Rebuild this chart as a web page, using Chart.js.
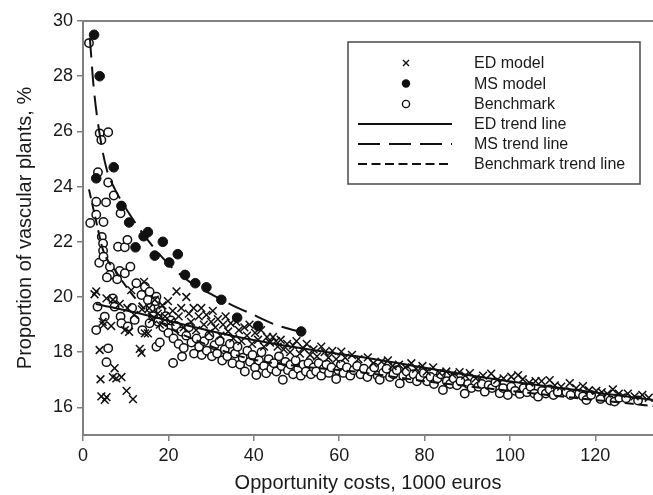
<!DOCTYPE html>
<html>
<head>
<meta charset="utf-8">
<script src="https://cdn.jsdelivr.net/npm/chart.js@4/dist/chart.umd.min.js"></script>
<style>
  html, body { margin: 0; padding: 0; background: #fff; }
  #wrap { width: 653px; height: 495px; position: relative; }
</style>
</head>
<body>
<div id="wrap"><canvas id="myChart"></canvas></div>
<script>
// --- data ---
const xTicks = [0, 20, 40, 60, 80, 100, 120];
const yTicks = [16, 18, 20, 22, 24, 26, 28, 30];

// ED model (crosses)
const edModel = [
    [3.1,20.2],[2.7,20.1],[5.5,19.95],[7.0,19.9],[8.6,19.75],[4.6,19.1],[4.8,18.98],[6.6,18.95],[9.8,18.8],[10.8,18.74],
    [3.9,18.08],[13.3,18.12],[13.7,17.98],[7.4,17.42],[7.0,17.1],[7.8,17.05],[9.0,17.1],[4.1,17.02],[4.3,16.4],[5.5,16.37],
    [5.1,16.27],[10.2,16.6],[11.7,16.3],[14.5,18.68],[15.2,18.68],[12.0,19.35],[13.8,19.55],[14.3,20.55],[11.3,20.25],[10.4,19.6],
    [15.5,19.6],[16.2,19.2],[16.8,19.9],[17.5,19.4],[18.0,19.0],[18.6,19.7],[19.2,19.3],[19.9,19.85],[20.5,19.1],[21.0,19.5],
    [21.9,20.2],[22.4,19.3],[23.0,19.6],[23.6,18.9],[24.2,20.0],[24.8,19.4],[25.3,19.1],[25.9,19.6],[26.5,18.8],[27.1,19.3],
    [27.7,19.6],[28.3,19.0],[28.9,19.35],[29.5,18.7],[30.0,19.1],[30.4,19.5],[31.0,18.9],[31.6,19.2],[32.2,18.6],[32.8,19.0],
    [33.4,19.3],[34.0,18.75],[34.6,19.05],[35.2,18.5],[35.9,19.1],[36.5,18.8],[37.1,18.4],[37.8,18.9],[38.4,18.6],[39.0,19.0],
    [39.6,18.3],[40.3,18.7],[41.0,18.45],[41.7,18.8],[42.4,18.2],[43.1,18.55],[43.8,18.35],[44.5,18.55],[45.2,18.4],[45.6,18.2],
    [46.3,18.45],[47.0,18.1],[47.8,18.3],[48.5,18.0],[49.2,18.25],[50.0,18.4],[50.8,17.95],[51.6,18.15],[52.4,18.3],[53.2,17.9],
    [54.0,18.1],[54.8,17.85],[55.8,18.2],[56.6,18.0],[57.5,17.8],[58.4,18.05],[59.3,17.75],[60.5,18.02],[61.4,17.8],[63.0,17.9],
    [64.5,17.75],[66.7,17.81],[68.0,17.6],[69.9,17.66],[71.4,17.7],[72.5,17.5],[74.0,17.55],[75.5,17.45],[76.9,17.6],[78.0,17.4],
    [79.5,17.5],[80.5,17.3],[82.0,17.45],[83.5,17.25],[85.1,17.3],[86.5,17.2],[88.2,17.28],[89.5,17.15],[90.6,17.24],[92.0,17.05],
    [93.7,17.15],[95.6,17.22],[97.0,17.0],[98.5,17.05],[100.3,17.11],[101.9,17.17],[103.0,17.02],[104.5,16.9],[106.0,16.95],[107.4,16.95],
    [109.3,16.99],[110.5,16.8],[112.0,16.75],[114.0,16.88],[115.5,16.7],[117.1,16.77],[118.5,16.62],[120.2,16.6],[121.5,16.55],[122.8,16.5],
    [124.1,16.65],[125.5,16.5],[127.6,16.5],[129.2,16.4],[131.0,16.45],[132.5,16.35]
];

// MS model (filled circles)
const msModel = [
    [2.6,29.5],[3.9,28.0],[3.1,24.3],[7.2,24.7],[9.0,23.3],[10.8,22.7],[12.3,21.8],[14.2,22.2],[15.2,22.35],[16.8,21.5],
    [18.7,22.0],[20.2,21.25],[22.2,21.55],[23.9,20.8],[26.3,20.5],[28.9,20.35],[32.4,19.9],[36.1,19.25],[41.0,18.95],[51.1,18.75]
];

// Benchmark (open circles)
const benchmark = [
    [1.4,29.2],[3.9,25.93],[5.9,25.97],[4.3,25.69],[3.5,24.52],[5.9,24.15],[3.1,23.45],[5.4,23.43],[7.2,23.68],[8.8,23.03],
    [1.7,22.68],[3.1,22.98],[4.8,22.72],[4.4,22.18],[4.7,21.94],[4.7,21.68],[3.8,21.24],[4.8,21.46],[8.2,21.82],[9.8,21.8],
    [10.4,22.07],[6.3,21.1],[6.3,20.8],[5.6,20.71],[8.6,20.94],[9.8,20.86],[11.1,21.1],[8.0,20.64],[12.5,20.5],[14.5,20.37],
    [13.7,20.07],[15.6,20.19],[15.2,19.89],[17.2,20.01],[16.8,19.71],[3.4,19.65],[7.0,19.95],[7.4,19.65],[5.1,19.29],[3.1,18.8],
    [8.8,19.29],[9.0,19.05],[10.5,18.93],[12.1,19.17],[13.9,18.8],[15.6,19.05],[5.9,18.14],[5.5,17.64],[17.2,18.2],[18.0,18.35],
    [21.1,17.61],[23.2,17.84],[11.5,19.6],
    [15.8,19.6],[16.4,19.3],[17.0,19.85],[17.6,19.1],[18.2,19.5],[18.8,18.9],[19.4,19.3],[20.0,18.7],[20.6,19.15],[21.2,18.5],
    [21.8,18.95],[22.4,18.3],[23.0,18.75],[23.6,18.15],[24.2,18.6],[24.8,18.9],[25.4,18.35],[26.0,17.95],[26.6,18.5],[27.2,18.2],
    [27.8,17.9],[28.4,18.4],[29.0,18.05],[29.6,18.6],[30.2,17.85],[30.8,18.25],[31.4,17.95],[32.0,18.4],[32.6,17.7],[33.2,18.1],
    [33.8,17.85],[34.4,18.3],[35.0,17.6],[35.6,17.95],[36.2,18.2],[36.8,17.55],[37.4,17.8],[37.9,17.3],[38.5,18.05],[39.1,17.65],
    [39.7,17.9],[40.3,17.45],[40.6,17.17],[41.2,17.7],[41.8,18.0],[42.4,17.5],[42.9,17.24],[43.5,17.75],[44.1,17.4],[44.7,17.6],
    [45.3,17.3],[45.9,17.85],[46.5,17.5],[46.8,17.0],[47.4,17.65],[48.0,17.35],[48.6,17.55],[49.2,17.2],[49.8,17.7],[50.4,17.4],
    [51.0,17.15],[51.6,17.55],[52.2,17.3],[52.8,17.6],[53.4,17.2],[54.0,17.45],[54.6,17.3],[55.2,17.6],[55.8,17.15],[56.4,17.4],
    [57.0,17.55],[57.6,17.25],[58.2,17.45],[59.3,17.03],[59.8,17.35],[60.4,17.55],
    [61.0,17.25],[61.8,17.45],[62.6,17.15],[63.4,17.35],[64.2,17.5],[65.0,17.2],[65.8,17.4],[66.6,17.1],[67.4,17.3],[68.2,17.45],
    [69.0,17.15],[69.5,17.0],[70.3,17.25],[71.1,17.4],[71.9,17.1],[72.7,17.2],[73.5,17.35],[74.2,16.87],[75.0,17.15],[75.8,17.3],
    [76.6,17.05],[77.4,17.2],[78.2,16.95],[79.0,17.1],[79.8,17.25],[80.6,16.95],[81.4,17.1],[82.2,16.85],[83.0,17.05],[83.8,17.2],
    [84.3,16.63],[85.2,16.95],[86.0,16.85],[86.8,17.05],[87.6,16.8],[88.4,16.95],[89.4,16.5],[90.2,16.85],[91.0,16.7],[91.8,16.95],
    [92.6,16.75],[93.4,16.85],[94.1,16.57],[95.0,16.8],[95.8,16.7],[96.6,16.9],[97.6,16.51],[98.4,16.7],[99.5,16.45],[100.3,16.75],
    [101.2,16.6],[102.3,16.49],[103.2,16.7],[104.0,16.55],[104.8,16.75],[105.7,16.5],[106.6,16.39],[107.5,16.6],[108.4,16.5],[109.3,16.65],
    [110.2,16.45],[111.2,16.55],[113.2,16.55],[114.2,16.45],[116.2,16.5],[117.1,16.4],[117.9,16.27],[119.0,16.45],[121.2,16.3],[123.5,16.25],
    [124.5,16.21],[125.6,16.35],[127.2,16.33],[130.0,16.25]
];

// trend lines, sampled along the curves in the picture
const edTrend = [[3,19.75],[13.3,19.4],[25,18.95],[38,18.5],[55,18.05],[64,17.85],[93,17.1],[133.5,16.27]];
const msTrend = [[1.6,29.4],[2.5,27.6],[4,25.8],[5.6,24.6],[7.5,23.9],[10.5,23.1],[15,22.1],[20,21.2],[25,20.55],[30,20.1],[35,19.7],[40,19.35],[45,19.0],[51,18.73]];
const benchmarkTrend = [[1.4,23.9],[3,22.8],[4.7,21.7],[7.8,20.9],[10.5,20.3],[14.8,19.5],[20,18.9],[27,18.4],[38,17.8],[50,17.5],[63.6,17.3],[80,16.95],[100,16.6],[115,16.35],[133.5,16.05]];

const toXY = arr => arr.map(p => ({ x: p[0], y: p[1] }));

// draws the top frame line and the boxed legend
const frameAndLegend = {
    id: 'frameAndLegend',
    afterDraw(chart) {
        const ctx = chart.ctx;
        const area = chart.chartArea;
        ctx.save();
        ctx.strokeStyle = '#808080';
        ctx.lineWidth = 2;
        ctx.beginPath();
        ctx.moveTo(area.left, area.top);
        ctx.lineTo(chart.width, area.top);
        ctx.stroke();

        // legend box
        ctx.fillStyle = '#fff';
        ctx.fillRect(348, 42, 292, 142);
        ctx.strokeStyle = '#4a4a4a';
        ctx.lineWidth = 1.5;
        ctx.strokeRect(348, 42, 292, 142);

        const rows = [63, 83.5, 104, 124, 144, 164];
        const labels = ['ED model', 'MS model', 'Benchmark', 'ED trend line', 'MS trend line', 'Benchmark trend line'];
        const mx = 406;
        ctx.strokeStyle = '#111';
        ctx.fillStyle = '#111';

        // cross
        ctx.lineWidth = 1.4;
        ctx.beginPath();
        ctx.moveTo(mx - 3, rows[0] - 3); ctx.lineTo(mx + 3, rows[0] + 3);
        ctx.moveTo(mx + 3, rows[0] - 3); ctx.lineTo(mx - 3, rows[0] + 3);
        ctx.stroke();
        // filled circle
        ctx.beginPath();
        ctx.arc(mx, rows[1], 4.2, 0, Math.PI * 2);
        ctx.fill();
        // open circle
        ctx.lineWidth = 1.4;
        ctx.beginPath();
        ctx.arc(mx, rows[2], 3.6, 0, Math.PI * 2);
        ctx.stroke();

        // line samples
        const dashes = [[], [22, 9], [9, 4.5]];
        ctx.lineWidth = 2;
        dashes.forEach((d, i) => {
            ctx.setLineDash(d);
            ctx.beginPath();
            ctx.moveTo(358, rows[3 + i]);
            ctx.lineTo(452, rows[3 + i]);
            ctx.stroke();
        });
        ctx.setLineDash([]);

        ctx.font = '16px "Liberation Sans", Arial, sans-serif';
        ctx.textBaseline = 'middle';
        ctx.textAlign = 'left';
        ctx.fillStyle = '#1a1a1a';
        labels.forEach((t, i) => ctx.fillText(t, 474, rows[i] + 1));
        ctx.restore();
    }
};

function renderChart() {
    const ctx = document.getElementById('myChart').getContext('2d');
    Chart.defaults.font.family = '"Liberation Sans", Arial, sans-serif';
    Chart.defaults.color = '#1a1a1a';

    const lineBase = {
        type: 'line',
        showLine: true,
        pointRadius: 0,
        borderColor: '#111',
        borderWidth: 2,
        fill: false,
        cubicInterpolationMode: 'monotone'
    };

    const chartConfig = {
        type: 'scatter',
        data: {
            datasets: [
                { ...lineBase, label: 'ED trend line', data: toXY(edTrend), order: 1 },
                { ...lineBase, label: 'MS trend line', data: toXY(msTrend), borderDash: [20, 9], order: 2 },
                { ...lineBase, label: 'Benchmark trend line', data: toXY(benchmarkTrend), borderDash: [9, 5], order: 3 },
                {
                    label: 'MS model', data: toXY(msModel), order: 4,
                    pointStyle: 'circle', pointRadius: 4.8, backgroundColor: '#111', borderColor: '#111', borderWidth: 1
                },
                {
                    label: 'ED model', data: toXY(edModel), order: 5,
                    pointStyle: 'crossRot', pointRadius: 5.5, borderColor: '#111', borderWidth: 1.5
                },
                {
                    label: 'Benchmark', data: toXY(benchmark), order: 6,
                    pointStyle: 'circle', pointRadius: 4.2, backgroundColor: '#fff', borderColor: '#111', borderWidth: 1.5
                }
            ]
        },
        options: {
            responsive: true,
            maintainAspectRatio: false,
            animation: false,
            layout: { autoPadding: false, padding: { top: 21, right: 0, left: 0, bottom: 0 } },
            plugins: {
                legend: { display: false },
                tooltip: { enabled: false }
            },
            scales: {
                x: {
                    type: 'linear',
                    min: 0,
                    max: 133.5,
                    afterBuildTicks: s => { s.ticks = xTicks.map(v => ({ value: v })); },
                    afterFit: s => { s.height = 60; s.paddingRight = 0; s.paddingLeft = 0; },
                    grid: { display: true, drawOnChartArea: false, drawTicks: true, tickLength: 6, color: '#808080', lineWidth: 1.5 },
                    border: { display: true, color: '#808080', width: 2 },
                    ticks: { font: { size: 18 }, padding: 4, maxRotation: 0, color: '#1a1a1a' },
                    title: { display: true, text: 'Opportunity costs, 1000 euros', font: { size: 20 }, padding: { top: 0, bottom: 0 }, color: '#1a1a1a' }
                },
                y: {
                    type: 'linear',
                    min: 15,
                    max: 30,
                    afterBuildTicks: s => { s.ticks = yTicks.map(v => ({ value: v })); },
                    afterFit: s => { s.width = 83; },
                    grid: { display: true, drawOnChartArea: false, drawTicks: true, tickLength: 6, color: '#808080', lineWidth: 1.5 },
                    border: { display: true, color: '#808080', width: 2 },
                    ticks: { font: { size: 18 }, padding: 4, color: '#1a1a1a' },
                    title: { display: true, text: 'Proportion of vascular plants, %', font: { size: 20 }, padding: { top: 13, bottom: 0 }, color: '#1a1a1a' }
                }
            }
        },
        plugins: [frameAndLegend]
    };

    new Chart(ctx, chartConfig);
}

renderChart();
</script>
</body>
</html>
